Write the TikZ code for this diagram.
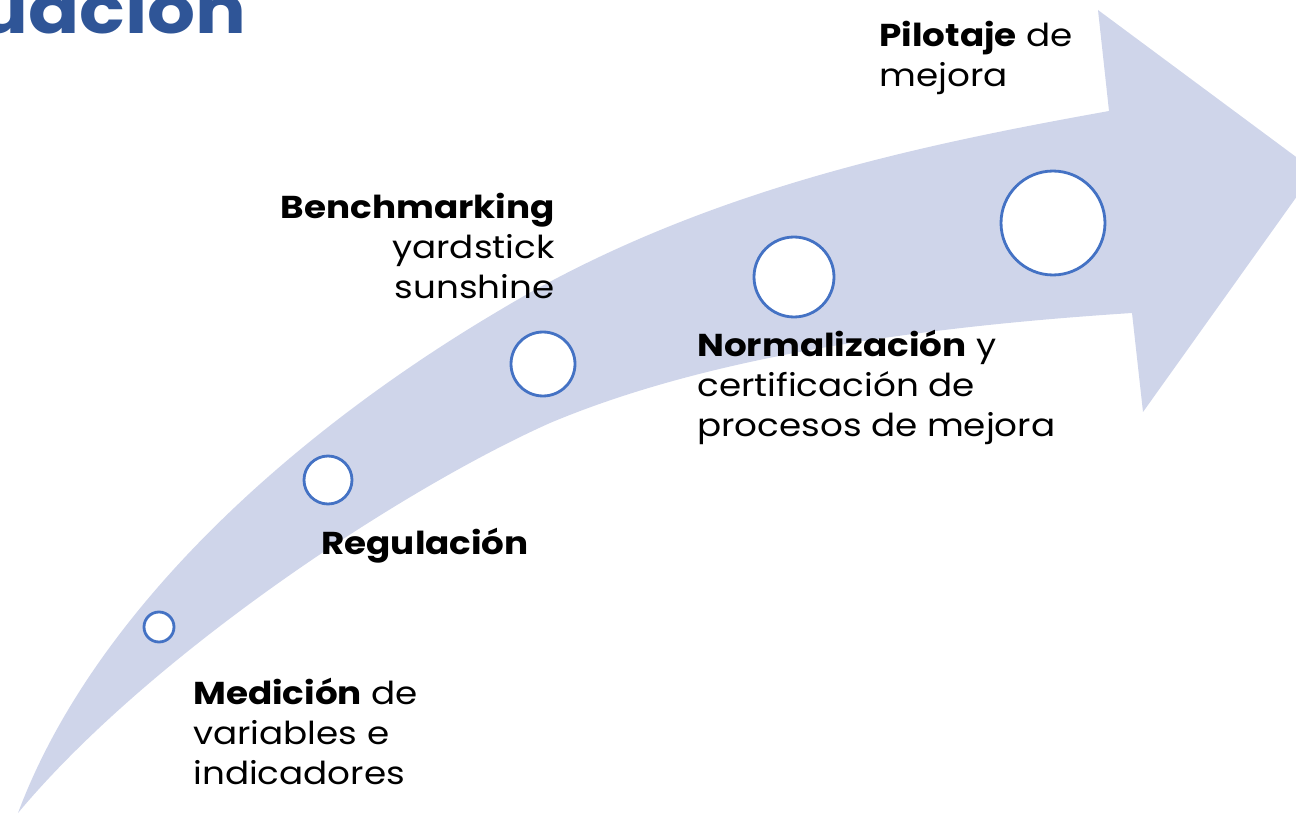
\documentclass[tikz,border=0pt]{standalone}
\usepackage{fontspec}
\setmainfont{Poppins}[FakeStretch=1.13]
\definecolor{arrowfill}{HTML}{CFD5EA}
\definecolor{ringblue}{HTML}{4472C4}
\definecolor{titleblue}{HTML}{2F5597}

\begin{document}
\begin{tikzpicture}[x=0.02cm, y=-0.02cm,
    stage/.style={circle, draw=ringblue, line width=1.6pt, fill=white, inner sep=0pt},
    steptext/.style={inner sep=0pt, text=black, font=\fontsize{18}{22.7}\selectfont}]
  \useasboundingbox (0,0) rectangle (1296,814);

  % Arrow body
  \fill[arrowfill] (18,813) .. controls (90,620) and (280,440) .. (500,310)
     .. controls (700,190) and (920,145) .. (1109,111)
     -- (1098,10) -- (1315,171) -- (1143,412) -- (1132,313)
     .. controls (900,328) and (700,360) .. (550,423)
     .. controls (400,490) and (150,655) .. (18,813) -- cycle;

  % Title
  \node[anchor=base east, inner sep=0pt, text=titleblue,
        font=\fontsize{38}{46}\selectfont\bfseries] (title) at (247,34) {uación};

  % Stages
  \foreach \name/\x/\y/\d in {c1/159/627/0.6, c2/328/480/0.96, c3/543/364/1.28,
                              c4/794/277/1.6, c5/1053/223/2.08}
    \node[stage, minimum size=\d cm] (\name) at (\x,\y) {};

  % Texts
  \node[steptext, anchor=north west, align=left] (med) at (193,678)
    {\textbf{Medición} de\\variables e\\indicadores};
  \node[steptext, anchor=north west] (reg) at (321,528) {\textbf{Regulación}};
  \node[steptext, anchor=north east, align=right] (bench) at (555,193)
    {\textbf{Benchmarking}\\yardstick\\sunshine};
  \node[steptext, anchor=north west, align=left] (norm) at (697,330)
    {\textbf{Normalización} y\\certificación de\\procesos de mejora};
  \node[steptext, anchor=north west, align=left] (pilot) at (879,21)
    {\textbf{Pilotaje} de\\mejora};
\end{tikzpicture}
\end{document}
